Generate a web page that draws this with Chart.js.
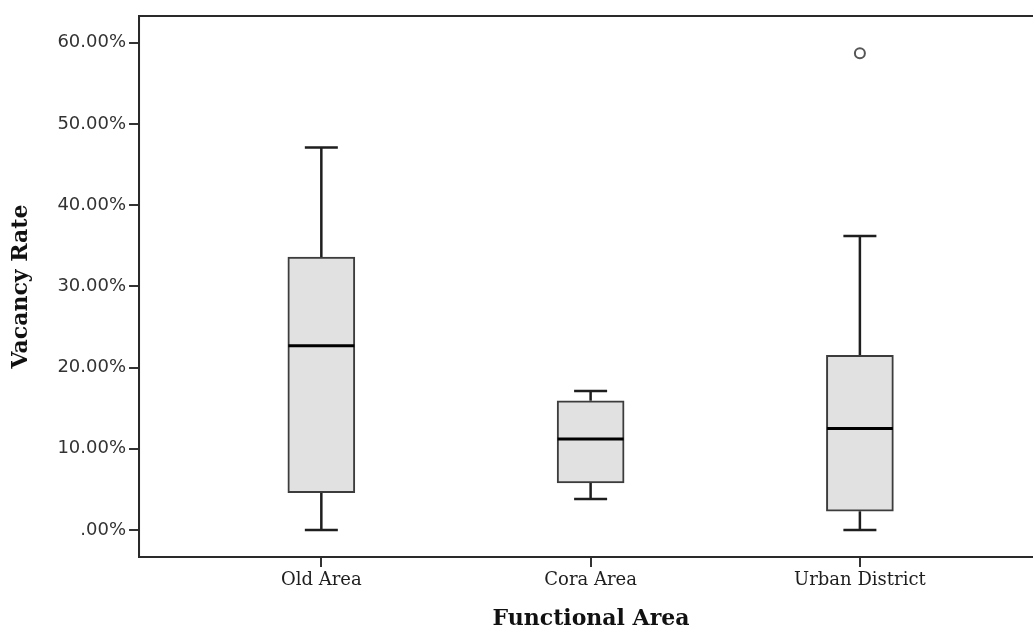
<!DOCTYPE html>
<html>
<head>
<meta charset="utf-8">
<script src="https://cdn.jsdelivr.net/npm/chart.js@4"></script>
<style>
  html, body { margin: 0; padding: 0; background: #fff; overflow: hidden; }
  #wrap { width: 1050px; height: 632px; }
</style>
</head>
<body>
<div id="wrap"><canvas id="vacancyChart"></canvas></div>
<script>
// values (percent)
const categories = ['Old Area', 'Cora Area', 'Urban District'];
const whiskerLow = [0.0, 3.8, 0.0];
const q1Values = [4.6, 5.8, 2.3];
const medianValues = [22.7, 11.2, 12.5];
const q3Values = [33.6, 15.9, 21.5];
const whiskerHigh = [47.1, 17.1, 36.2];
const outliers = [{ cat: 3, value: 58.7 }];
const yTicks = [0, 10, 20, 30, 40, 50, 60];

const boxData = categories.map((c, i) => ({ x: i + 1, y: [q1Values[i], q3Values[i]] }));

// whiskers, caps and medians, drawn through the chart's scales
const boxPlotExtras = {
    id: 'boxPlotExtras',
    beforeDatasetsDraw(chart) {
        const ctx = chart.ctx, xs = chart.scales.x, ys = chart.scales.y;
        ctx.save();
        ctx.strokeStyle = '#1e1e1e';
        ctx.lineWidth = 2.5;
        categories.forEach((c, i) => {
            const x = xs.getPixelForValue(i + 1);
            const pairs = [[q3Values[i], whiskerHigh[i]], [q1Values[i], whiskerLow[i]]];
            pairs.forEach(([from, to]) => {
                ctx.beginPath();
                ctx.moveTo(x, ys.getPixelForValue(from));
                ctx.lineTo(x, ys.getPixelForValue(to));
                ctx.moveTo(x - 16.5, ys.getPixelForValue(to));
                ctx.lineTo(x + 16.5, ys.getPixelForValue(to));
                ctx.stroke();
            });
        });
        ctx.restore();
    },
    afterDatasetsDraw(chart) {
        const ctx = chart.ctx, xs = chart.scales.x, ys = chart.scales.y;
        ctx.save();
        ctx.strokeStyle = '#000';
        ctx.lineWidth = 3;
        medianValues.forEach((m, i) => {
            const x = xs.getPixelForValue(i + 1);
            const y = ys.getPixelForValue(m);
            ctx.beginPath();
            ctx.moveTo(x - 33, y);
            ctx.lineTo(x + 33, y);
            ctx.stroke();
        });
        // frame around plot area
        const a = chart.chartArea;
        ctx.strokeStyle = '#2a2a2a';
        ctx.lineWidth = 2;
        ctx.strokeRect(a.left, a.top, a.right - a.left, a.bottom - a.top);
        ctx.restore();
    }
};

new Chart(document.getElementById('vacancyChart'), {
    data: {
        datasets: [
            {
                type: 'bar',
                data: boxData,
                backgroundColor: '#e1e1e1',
                borderColor: '#3c3c3c',
                borderWidth: 2,
                borderSkipped: false,
                barThickness: 67,
                grouped: false
            },
            {
                type: 'scatter',
                data: outliers.map(o => ({ x: o.cat, y: o.value })),
                pointRadius: 5,
                pointBackgroundColor: '#fff',
                pointBorderColor: '#555',
                pointBorderWidth: 2
            }
        ]
    },
    options: {
        responsive: true,
        maintainAspectRatio: false,
        animation: false,
        layout: { padding: { left: 8, right: 3, top: 16, bottom: 0 } },
        plugins: { legend: { display: false }, tooltip: { enabled: false } },
        scales: {
            x: {
                type: 'linear',
                offset: false,
                min: 0.323,
                max: 3.68,
                afterBuildTicks: s => { s.ticks = [1, 2, 3].map(v => ({ value: v })); },
                ticks: {
                    callback: v => categories[v - 1],
                    font: { family: 'DejaVu Serif', size: 18 },
                    color: '#1e1e1e',
                    padding: 3,
                    maxRotation: 0,
                    autoSkip: false
                },
                grid: { offset: false, drawOnChartArea: false, tickLength: 10, color: '#333', lineWidth: 2 },
                border: { color: '#2a2a2a', width: 2 },
                title: {
                    display: true,
                    text: 'Functional Area',
                    font: { family: 'DejaVu Serif', size: 22, weight: 'bold' },
                    color: '#111',
                    padding: { top: 11, bottom: 0 }
                }
            },
            y: {
                min: -3.33,
                max: 63.3,
                afterBuildTicks: s => { s.ticks = yTicks.map(v => ({ value: v })); },
                ticks: {
                    callback: v => v === 0 ? '.00%' : v.toFixed(2) + '%',
                    font: { family: 'DejaVu Sans', size: 18 },
                    color: '#333',
                    padding: 3
                },
                grid: { drawOnChartArea: false, tickLength: 10, color: '#333', lineWidth: 2 },
                border: { color: '#2a2a2a', width: 2 },
                title: {
                    display: true,
                    text: 'Vacancy Rate',
                    font: { family: 'DejaVu Serif', size: 22, weight: 'bold' },
                    color: '#111',
                    padding: { top: 0, bottom: 20 }
                }
            }
        }
    },
    plugins: [boxPlotExtras]
});
</script>
</body>
</html>
